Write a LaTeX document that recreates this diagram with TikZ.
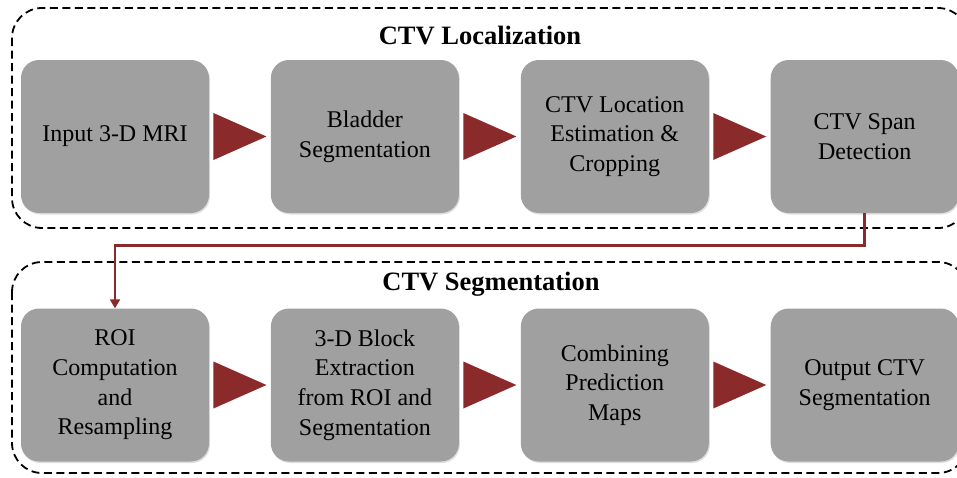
\documentclass[tikz,border=0pt]{standalone}
\usepackage{fontspec}
\setmainfont{Liberation Serif}
\usetikzlibrary{positioning,calc,arrows.meta,shadows}
\definecolor{boxgray}{RGB}{160,160,160}
\definecolor{arrowred}{RGB}{139,42,42}
\begin{document}
\begin{tikzpicture}[x=1pt,y=-1pt,
  stage/.style={fill=boxgray, rounded corners=18pt, minimum width=188pt, minimum height=153pt,
    inner sep=0pt, align=center, font=\fontsize{24}{29.7}\selectfont,
    drop shadow={shadow xshift=1pt, shadow yshift=-1.5pt, opacity=0.25}},
  group/.style={draw, line width=1.8pt, dash pattern=on 8pt off 4.5pt, rounded corners=30pt},
  grouptitle/.style={font=\fontsize{26.5}{30}\selectfont\bfseries}]
\useasboundingbox (0,0) rectangle (957,477);
\clip (0,0) rectangle (957,477);
% dashed groups
\draw[group] (12,8) rectangle (968,228);
\draw[group] (12,262) rectangle (968,473);
\node[grouptitle] (loctitle) at (480,36) {CTV Localization};
\node[grouptitle] (segtitle) at (491,284) {CTV Segmentation};
% first row
\node[stage] (in) at (115,136.5) {Input 3-D MRI};
\node[stage, right=61.5pt of in] (bseg) {Bladder\\Segmentation};
\node[stage, right=61.5pt of bseg] (cloc) {CTV Location\\Estimation \&\\Cropping};
\node[stage, right=61.5pt of cloc] (span) {CTV Span\\Detection};
% second row
\node[stage] (roi) at (115,385) {ROI\\Computation\\and\\Resampling};
\node[stage, right=61.5pt of roi] (blk) {3-D Block\\Extraction\\from ROI and\\Segmentation};
\node[stage, right=61.5pt of blk] (comb) {Combining\\Prediction\\Maps};
\node[stage, right=61.5pt of comb] (out) {Output CTV\\Segmentation};
% arrows between stages
\foreach \a/\b in {in/bseg, bseg/cloc, cloc/span, roi/blk, blk/comb, comb/out}
  \fill[arrowred] ($(\a.east)!0.5!(\b.west)$) +(-26.5,-23.5) -- +(26.5,0) -- +(-26.5,23.5) -- cycle;
\draw[arrowred, line width=2.6pt, -{Triangle[length=9pt,width=10pt]}]
  (span.south) -- ++(0,32) -| (roi.north);
\end{tikzpicture}
\end{document}
